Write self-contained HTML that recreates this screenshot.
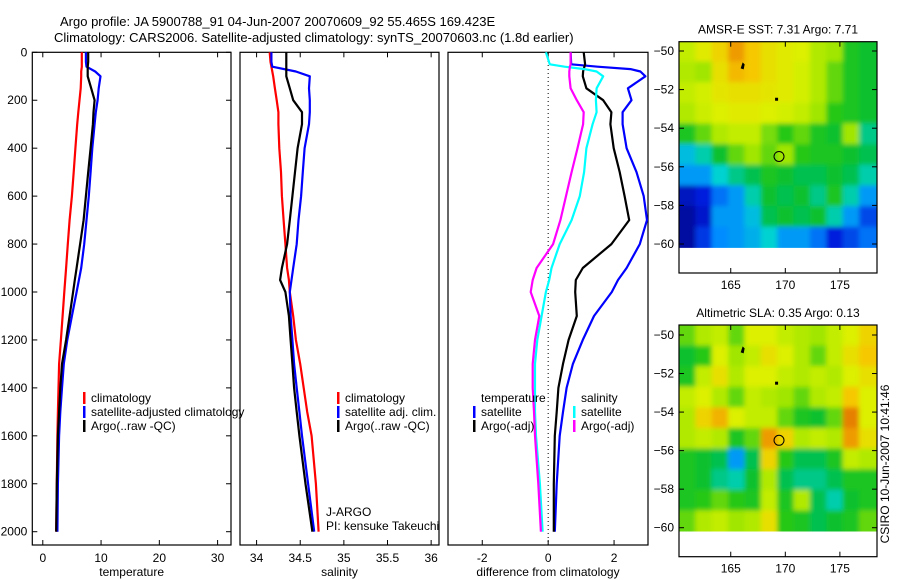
<!DOCTYPE html>
<html><head><meta charset="utf-8"><style>
body{margin:0;background:#fff;}
svg{display:block;font-family:"Liberation Sans",sans-serif;}
text{fill:#000;}
</style></head><body>
<svg id="fig" width="900" height="580" xmlns="http://www.w3.org/2000/svg">
<text x="60" y="26" font-size="13">Argo profile: JA 5900788_91 04-Jun-2007 20070609_92 55.465S 169.423E</text>
<text x="54" y="42" font-size="13">Climatology: CARS2006. Satellite-adjusted climatology: synTS_20070603.nc (1.8d earlier)</text>
<text x="889" y="464" font-size="12" text-anchor="middle" transform="rotate(-90 889 464)">CSIRO 10-Jun-2007 10:41:46</text>
<g id="plots"></g>
</svg>
<script>
// ---- profile data ----
const depthTS = [0,40,60,80,100,150,200,250,300,400,500,600,700,800,900,950,1000,1100,1200,1300,1400,1500,1600,1800,2000];
const tempClim = [6.7,6.7,6.7,6.6,6.6,6.5,6.3,6.1,5.9,5.6,5.3,5.0,4.6,4.3,4.0,3.85,3.7,3.4,3.1,2.8,2.7,2.6,2.5,2.4,2.3];
const tempSat = [7.4,7.4,7.5,9.0,9.9,9.6,9.4,9.1,8.9,8.5,8.2,7.9,7.5,7.1,6.6,6.2,5.8,5.0,4.2,3.6,3.3,3.0,2.8,2.6,2.5];
const tempArgo = [7.8,7.8,7.7,7.7,7.7,8.3,8.9,8.7,8.6,8.2,7.8,7.4,7.0,6.4,5.8,5.5,5.2,4.6,4.0,3.3,3.0,2.8,2.6,2.4,2.3];
const salClim = [34.15,34.16,34.17,34.18,34.19,34.21,34.23,34.25,34.25,34.26,34.28,34.29,34.31,34.33,34.35,34.37,34.38,34.42,34.45,34.50,34.54,34.58,34.63,34.68,34.71];
const salSat = [34.17,34.17,34.18,34.45,34.61,34.60,34.61,34.61,34.60,34.55,34.53,34.51,34.48,34.46,34.42,34.40,34.38,34.39,34.41,34.43,34.46,34.49,34.52,34.59,34.66];
const salArgo = [34.34,34.34,34.34,34.34,34.34,34.38,34.42,34.52,34.52,34.47,34.44,34.41,34.38,34.35,34.29,34.27,34.33,34.37,34.39,34.41,34.43,34.46,34.49,34.56,34.64];
const depthDiff = [0,50,60,70,80,100,150,200,250,300,400,500,600,700,800,900,950,1000,1100,1200,1300,1400,1500,1600,1800,2000];
const diffTempSat = [0.68,0.7,1.5,2.5,2.8,2.95,2.42,2.53,2.26,2.26,2.38,2.68,2.9,3.0,2.78,2.38,2.12,1.93,1.39,1.05,0.75,0.56,0.45,0.35,0.26,0.2];
const diffTempArgo = [1.08,1.12,1.1,1.08,1.06,1.05,1.16,1.67,1.92,1.89,1.99,2.17,2.32,2.46,1.92,1.05,0.84,0.82,0.87,0.62,0.45,0.31,0.26,0.2,0.17,0.17];
const diffSalSat = [-0.07,0.05,0.5,1.1,1.47,1.67,1.47,1.45,1.47,1.35,1.16,1.09,0.96,0.71,0.35,0.1,0.03,-0.07,-0.2,-0.33,-0.4,-0.4,-0.4,-0.37,-0.25,-0.17];
const diffSalArgo = [0.68,0.68,0.66,0.65,0.64,0.64,0.68,0.87,1.08,1.06,0.89,0.71,0.54,0.37,0.15,-0.35,-0.47,-0.53,-0.27,-0.4,-0.47,-0.47,-0.43,-0.4,-0.3,-0.22];
const depthTicks = [0,200,400,600,800,1000,1200,1400,1600,1800,2000];
const tempTicks = [0,10,20,30];
const salTicks = [34,34.5,35,35.5,36];
const diffTicks = [-2,0,2];
// ---- map data (colour index 0..1) ----
const mapLons = [160.3,161.8,163.3,164.8,166.3,167.8,169.3,170.8,172.3,173.8,175.3,176.8,178.4];
const mapLats = [-49.5,-50.57,-51.64,-52.71,-53.78,-54.85,-55.92,-56.99,-58.06,-59.13,-60.2];
const sstGrid = [
[0.62,0.66,0.70,0.78,0.72,0.68,0.66,0.65,0.60,0.58,0.50,0.48],
[0.60,0.58,0.68,0.74,0.72,0.68,0.66,0.64,0.60,0.55,0.50,0.48],
[0.62,0.64,0.67,0.68,0.68,0.67,0.66,0.64,0.60,0.55,0.50,0.48],
[0.60,0.63,0.65,0.66,0.66,0.65,0.64,0.62,0.58,0.52,0.50,0.48],
[0.50,0.55,0.60,0.62,0.62,0.56,0.52,0.55,0.50,0.48,0.58,0.42],
[0.35,0.40,0.48,0.55,0.58,0.55,0.58,0.52,0.50,0.50,0.48,0.45],
[0.30,0.30,0.38,0.42,0.45,0.50,0.48,0.45,0.45,0.48,0.45,0.40],
[0.10,0.15,0.25,0.30,0.40,0.48,0.45,0.48,0.42,0.50,0.40,0.30],
[0.05,0.12,0.30,0.30,0.35,0.45,0.48,0.45,0.48,0.40,0.30,0.20],
[0.05,0.18,0.28,0.30,0.33,0.38,0.30,0.30,0.25,0.15,0.20,0.25]];
const slaGrid = [
[0.55,0.60,0.62,0.55,0.65,0.65,0.62,0.60,0.58,0.62,0.65,0.70],
[0.48,0.52,0.65,0.58,0.62,0.68,0.65,0.60,0.55,0.62,0.68,0.72],
[0.50,0.62,0.68,0.60,0.65,0.65,0.62,0.60,0.62,0.60,0.65,0.68],
[0.62,0.65,0.60,0.55,0.62,0.60,0.58,0.55,0.60,0.62,0.72,0.65],
[0.60,0.70,0.75,0.65,0.62,0.62,0.55,0.50,0.48,0.55,0.82,0.65],
[0.60,0.62,0.60,0.50,0.55,0.78,0.70,0.60,0.62,0.60,0.78,0.68],
[0.50,0.48,0.45,0.30,0.45,0.70,0.52,0.45,0.45,0.50,0.62,0.60],
[0.50,0.48,0.42,0.40,0.48,0.60,0.45,0.42,0.42,0.45,0.50,0.50],
[0.50,0.52,0.55,0.52,0.50,0.62,0.50,0.60,0.45,0.40,0.48,0.50],
[0.55,0.60,0.62,0.58,0.60,0.68,0.52,0.50,0.45,0.48,0.50,0.55]];
const lonTicks = [165,170,175];
const latTicks = [-50,-52,-54,-56,-58,-60];
const argoLon = 169.423, argoLat = -55.465;

const NS = "http://www.w3.org/2000/svg";
const root = document.getElementById('plots');
function mk(tag, attrs, parent){const e=document.createElementNS(NS,tag);for(const k in attrs)e.setAttribute(k,attrs[k]);(parent||root).appendChild(e);return e;}
function txt(x,y,s,size,anchor,parent){const t=mk('text',{x:x,y:y,'font-size':size,'text-anchor':anchor||'start'},parent);t.textContent=s;return t;}

const yTop=52.3, yPx=0.2397;
function yD(d){return yTop+d*yPx;}

function panel(name,L,R,xmin,xmax,ticks,label,series,depths,showY){
  const g=mk('g',{});
  
  
  const top=52.3,bot=545;
  const xs=v=>L+(v-xmin)/(xmax-xmin)*(R-L);
  const box=mk('rect',{x:L,y:top,width:R-L,height:bot-top,fill:'#fff',stroke:'#000','stroke-width':1.2},g);
  
  
  ticks.forEach(t=>{const x=xs(t);
    mk('line',{x1:x,x2:x,y1:bot,y2:bot-5,stroke:'#000'},g);
    mk('line',{x1:x,x2:x,y1:top,y2:top+5,stroke:'#000'},g);
    const tl=txt(x,bot+17,String(t),12,'middle',g);
    
    });
  const xl=txt((L+R)/2,bot+31,label,12,'middle',g);
  
  
  if(showY){depthTicks.forEach(d=>{const y=yD(d);
    mk('line',{x1:L,x2:L+5,y1:y,y2:y,stroke:'#000'},g);
    mk('line',{x1:R,x2:R-5,y1:y,y2:y,stroke:'#000'},g);
    const yl=txt(L-5,y+4,String(d),12,'end',g);
    
    });}
  series.forEach(s=>{
    const pts=s.vals.map((v,i)=>xs(v).toFixed(1)+','+yD(depths[i]).toFixed(1)).join(' ');
    const p=mk('polyline',{points:pts,fill:'none',stroke:s.color,'stroke-width':2.2,'stroke-linejoin':'round'},g);
    
    
  });
  return {g,xs};
}

const p1=panel('temperature-panel',32.3,231,-1.8,32.3,tempTicks,'temperature',[
 {vals:tempClim,color:'#ff0000',name:'temp-climatology-line'},
 {vals:tempSat,color:'#0000ff',name:'temp-satellite-line'},
 {vals:tempArgo,color:'#000000',name:'temp-argo-line'}],depthTS,true);
const p2=panel('salinity-panel',240,439,33.81,36.09,salTicks,'salinity',[
 {vals:salClim,color:'#ff0000',name:'sal-climatology-line'},
 {vals:salSat,color:'#0000ff',name:'sal-satellite-line'},
 {vals:salArgo,color:'#000000',name:'sal-argo-line'}],depthTS,false);
const p3=panel('difference-panel',448,648,-3.04,3.03,diffTicks,'difference from climatology',[],depthDiff,false);
const zx=p3.xs(0);
const zl=mk('line',{x1:zx,x2:zx,y1:53,y2:545,stroke:'#000','stroke-dasharray':'1,3'},p3.g);


[{vals:diffTempSat,color:'#0000ff',name:'diff-temp-satellite-line'},
 {vals:diffTempArgo,color:'#000000',name:'diff-temp-argo-line'},
 {vals:diffSalSat,color:'#00ffff',name:'diff-sal-satellite-line'},
 {vals:diffSalArgo,color:'#ff00ff',name:'diff-sal-argo-line'}].forEach(s=>{
  const pts=s.vals.map((v,i)=>p3.xs(v).toFixed(1)+','+yD(depthDiff[i]).toFixed(1)).join(' ');
  const p=mk('polyline',{points:pts,fill:'none',stroke:s.color,'stroke-width':2.2,'stroke-linejoin':'round'},p3.g);
  
  
});

function legendEntry(x,y,color,label,name){
  const g=mk('g',{});
  
  
  if(color) mk('rect',{x:x,y:y-10,width:2.5,height:12,fill:color},g);
  txt(x+8,y,label,12,'start',g);
}
legendEntry(83,402,'#ff0000','climatology','legend-temp-climatology');
legendEntry(83,416,'#0000ff','satellite-adjusted climatology','legend-temp-satellite');
legendEntry(83,430,'#000000','Argo(..raw -QC)','legend-temp-argo');
legendEntry(337,402,'#ff0000','climatology','legend-sal-climatology');
legendEntry(337,416,'#0000ff','satellite adj. clim.','legend-sal-satellite');
legendEntry(337,430,'#000000','Argo(..raw -QC)','legend-sal-argo');
legendEntry(473,402,null,'temperature','legend-temperature-heading');
legendEntry(473,416,'#0000ff','satellite','legend-diff-temp-satellite');
legendEntry(473,430,'#000000','Argo(-adj)','legend-diff-temp-argo');
legendEntry(573,402,null,'salinity','legend-salinity-heading');
legendEntry(573,416,'#00ffff','satellite','legend-diff-sal-satellite');
legendEntry(573,430,'#ff00ff','Argo(-adj)','legend-diff-sal-argo');
const j1=txt(326,516,'J-ARGO',12);


const j2=txt(326,530,'PI: kensuke Takeuchi',12);



// ---- maps ----
const cmapStops=[[0,[0,0,130]],[0.15,[0,30,220]],[0.28,[0,140,255]],[0.38,[0,210,210]],[0.46,[0,190,60]],[0.52,[40,200,20]],[0.58,[160,230,0]],[0.65,[220,240,0]],[0.72,[245,200,0]],[0.8,[235,140,0]],[0.9,[210,80,0]],[1,[170,40,0]]];
function cmap(v){v=Math.max(0,Math.min(1,v));
  for(let i=1;i<cmapStops.length;i++){const a=cmapStops[i-1],b=cmapStops[i];
    if(v<=b[0]){const t=(v-a[0])/(b[0]-a[0]);
      return 'rgb('+a[1].map((c,k)=>Math.round(c+(b[1][k]-c)*t)).join(',')+')';}}
  return 'rgb(170,40,0)';}

function map(name,top,bottom,latY,grid,title){
  const L=679,R=877,lonMin=160.26,lonMax=178.4;
  const pxPerDeg=(latY.y60-latY.y50)/10;
  const xs=lo=>L+(lo-lonMin)/(lonMax-lonMin)*(R-L);
  const ys=la=>latY.y50+(-50-la)*pxPerDeg;
  const g=mk('g',{});
  
  
  const tt=txt((L+R)/2,top-8,title,12,'middle',g);
  
  
  const dataBottom=ys(mapLats[mapLats.length-1]);
  const cid='clip-'+name;
  const cp=mk('clipPath',{id:cid},g);mk('rect',{x:L,y:top,width:R-L,height:dataBottom-top},cp);
  const fid='blur-'+name;
  const f=mk('filter',{id:fid,x:'-10%',y:'-10%',width:'120%',height:'120%'},g);
  mk('feGaussianBlur',{stdDeviation:2.5},f);
  const cells=mk('g',{'clip-path':'url(#'+cid+')'},g);
  const inner=mk('g',{filter:'url(#'+fid+')'},cells);
  const nr=grid.length, nc=grid[0].length;
  grid.forEach((row,r)=>row.forEach((v,c)=>{
    let x0=xs(mapLons[c]),x1=xs(mapLons[c+1]);
    let y0=ys(mapLats[r]),y1=ys(mapLats[r+1]);
    if(c===0)x0-=10; if(c===nc-1)x1+=10; if(r===0)y0-=10; if(r===nr-1)y1+=10;
    const rc=mk('rect',{x:x0-0.5,y:y0-0.5,width:x1-x0+1,height:y1-y0+1,fill:cmap(v)},inner);
    
    
  }));
  mk('path',{d:`M${xs(166)-1},${ys(-50.9)} l2,-6 l2,2 l-1,5 z`,fill:'#000'},g);
  mk('rect',{x:xs(169.2)-1.5,y:ys(-52.5)-1.5,width:3,height:3,fill:'#000'},g);
  const ci=mk('circle',{cx:xs(argoLon),cy:ys(argoLat),r:5,fill:'none',stroke:'#000','stroke-width':1},g);
  
  
  mk('rect',{x:L,y:top,width:R-L,height:bottom-top,fill:'none',stroke:'#000','stroke-width':1.2},g);
  lonTicks.forEach(t=>{const x=xs(t);
    mk('line',{x1:x,x2:x,y1:bottom,y2:bottom-5,stroke:'#000'},g);
    mk('line',{x1:x,x2:x,y1:top,y2:top+5,stroke:'#000'},g);
    const l=txt(x,bottom+16,String(t),12,'middle',g);
    
    });
  latTicks.forEach(t=>{const y=ys(t);
    mk('line',{x1:L,x2:L+5,y1:y,y2:y,stroke:'#000'},g);
    mk('line',{x1:R,x2:R-5,y1:y,y2:y,stroke:'#000'},g);
    const l=txt(L-5,y+4,String(t).replace('-','\u2212'),12,'end',g);
    
    });
}
map('sst-map',41.7,273,{y50:51,y60:244},sstGrid,'AMSR-E SST: 7.31  Argo: 7.71');
map('sla-map',325,556.7,{y50:335,y60:527.7},slaGrid,'Altimetric SLA: 0.35  Argo: 0.13');
</script>
</body></html>
